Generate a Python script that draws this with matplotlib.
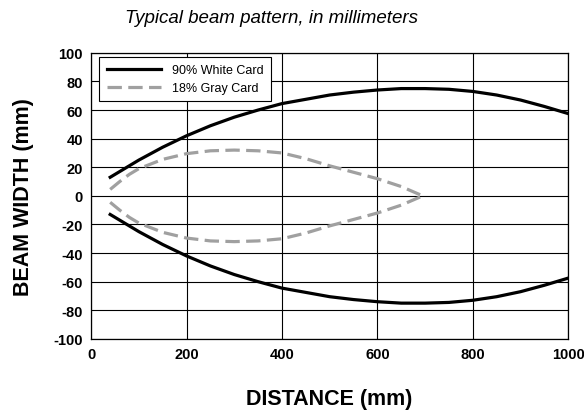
import numpy as np
import matplotlib
matplotlib.use("Agg")
import matplotlib.pyplot as plt

# ===== data (mm) =====
WHITE_X = [40, 100, 150, 200, 250, 300, 350, 400, 450, 500,
           550, 600, 650, 700, 750, 800, 850, 900, 950, 1000]
WHITE_Y = [13, 25, 34, 42, 49, 55, 60, 64.5, 67.5, 70.5,
           72.5, 74, 75, 75, 74.5, 73, 70.5, 67, 62.5, 57.5]

GRAY_X = [40, 60, 80, 100, 150, 200, 250, 300, 350, 400,
          450, 500, 550, 600, 650, 695]
GRAY_Y = [4.5, 10, 15, 19, 25.5, 29.5, 31.5, 32, 31.5, 30,
          26, 21, 16.5, 12, 6.5, 0]

X_TICKS = [0, 200, 400, 600, 800, 1000]
Y_TICKS = [-100, -80, -60, -40, -20, 0, 20, 40, 60, 80, 100]

plt.rcParams["axes.unicode_minus"] = False
SANS = ["Liberation Sans", "DejaVu Sans"]

fig = plt.figure(figsize=(5.84, 4.14), dpi=100)
ax = fig.add_axes([0.156, 0.179, 0.817, 0.691])

wx, wy = np.array(WHITE_X), np.array(WHITE_Y)
gx, gy = np.array(GRAY_X), np.array(GRAY_Y)

ax.plot(wx, wy, color="black", lw=2.3, label="90% White Card", zorder=3)
ax.plot(wx, -wy, color="black", lw=2.3, zorder=3)
ax.plot(gx, gy, color="#a0a0a0", lw=2.3, dashes=(4.5, 2), label="18% Gray Card", zorder=3)
ax.plot(gx, -gy, color="#a0a0a0", lw=2.3, dashes=(4.5, 2), zorder=3)

ax.set_xlim(0, 1000)
ax.set_ylim(-100, 100)
ax.set_xticks(X_TICKS)
ax.set_yticks(Y_TICKS)
ax.grid(True, color="black", lw=0.8)
ax.tick_params(length=0, pad=6)
for lab in ax.get_xticklabels() + ax.get_yticklabels():
    lab.set_family(SANS)
    lab.set_fontweight("bold")
    lab.set_fontsize(10.5)
for s in ax.spines.values():
    s.set_color("black")
    s.set_linewidth(0.9)

ax.set_xlabel("DISTANCE (mm)", family=SANS, fontweight="bold", fontsize=15.5, labelpad=19)
ax.set_ylabel("BEAM WIDTH (mm)", family=SANS, fontweight="bold", fontsize=15.5, labelpad=14)
fig.text(0.465, 0.955, "Typical beam pattern, in millimeters", ha="center", va="center",
         family=SANS, style="italic", fontsize=13.5)

leg = ax.legend(loc="upper left", bbox_to_anchor=(0.012, 0.995), prop={"family": SANS, "size": 9},
                fancybox=False, framealpha=1, edgecolor="black", handlelength=4.3,
                handletextpad=0.9, borderpad=0.6, labelspacing=0.45, borderaxespad=0.2)
leg.get_frame().set_linewidth(0.8)

fig.savefig("out.png", dpi=100)
